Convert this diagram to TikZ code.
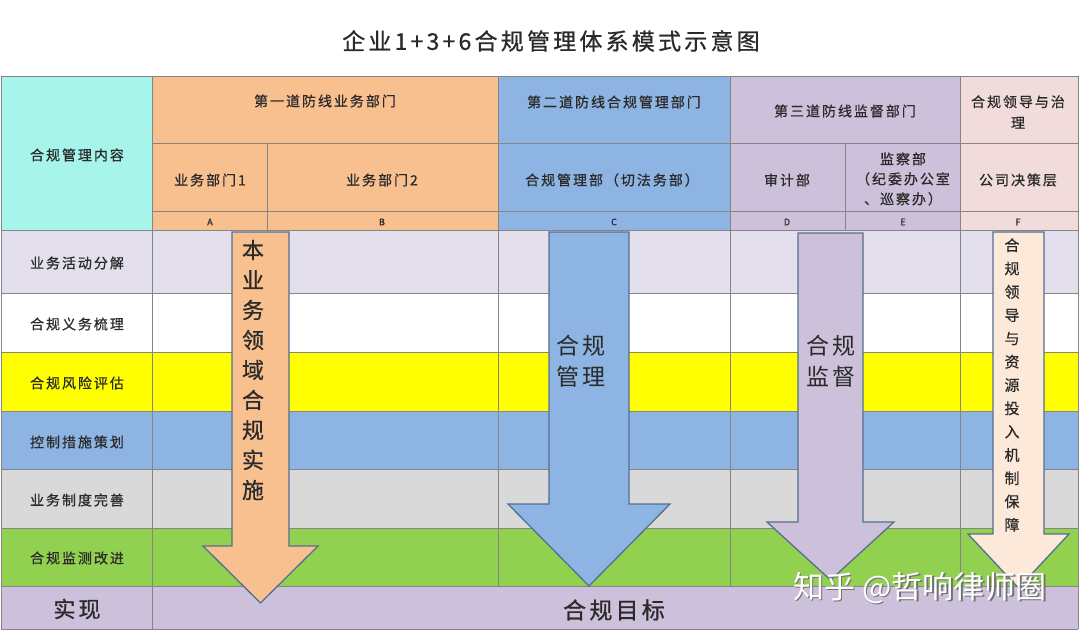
\documentclass[tikz,border=0pt]{standalone}
\usepackage{fontspec}
\setmainfont{Noto Sans CJK SC}[LetterSpace=14]
\newfontfamily\hfont{Noto Sans CJK SC}[LetterSpace=14,FakeBold=0.7]
\newfontfamily\wmfont{Noto Sans CJK SC}
\definecolor{cyanc}{HTML}{A6F4EA}
\definecolor{orangec}{HTML}{F9C08F}
\definecolor{bluec}{HTML}{8DB4E2}
\definecolor{purplec}{HTML}{CCC0DA}
\definecolor{pinkc}{HTML}{F2DCDB}
\definecolor{lavc}{HTML}{E4DFEC}
\definecolor{yellowc}{HTML}{FFFF00}
\definecolor{grayc}{HTML}{D9D9D9}
\definecolor{greenc}{HTML}{92D050}
\definecolor{peachc}{HTML}{FDE9D9}
\definecolor{gridc}{HTML}{858585}
\definecolor{edgec}{HTML}{546F90}
\definecolor{txtc}{HTML}{2A2A2A}
\begin{document}
\begin{tikzpicture}[x=1pt,y=-1pt,
  gridline/.style={draw=gridc,line width=0.8pt},
  hdr/.style={inner sep=0pt,text=txtc,font=\hfont\fontsize{14}{21}\selectfont,align=center},
  lbl/.style={inner sep=0pt,text=txtc,font=\hfont\fontsize{14}{20}\selectfont},
  letter/.style={inner sep=0pt,text=txtc,font=\hfont\fontsize{9}{10}\selectfont},
  arrowbox/.style={draw=edgec,line width=1.3pt,line join=miter},
  vtext/.style={inner sep=0pt,text=txtc,align=center}]
\useasboundingbox (0,0) rectangle (1080,634);
\fill[white] (0,0) rectangle (1080,634);
% title
\node[inner sep=0pt,text=txtc,font=\hfont\fontsize{23}{28}\selectfont] (title) at (551,41) {企业1+3+6合规管理体系模式示意图};
% header fills
\fill[cyanc] (1,76) rectangle (152,230);
\fill[orangec] (152,76) rectangle (498,230);
\fill[bluec] (498,76) rectangle (730,230);
\fill[purplec] (730,76) rectangle (960,230);
\fill[pinkc] (960,76) rectangle (1078,230);
% body rows
\fill[lavc] (1,230) rectangle (1078,293);
\fill[white] (1,293) rectangle (1078,352);
\fill[yellowc] (1,352) rectangle (1078,411);
\fill[bluec] (1,411) rectangle (1078,469);
\fill[grayc] (1,469) rectangle (1078,528);
\fill[greenc] (1,528) rectangle (1078,586);
\fill[purplec] (1,586) rectangle (1078,629);
% grid
\foreach \yy in {76,230,293,352,411,469,528,586,629}
  \draw[gridline] (1,\yy) -- (1078,\yy);
\draw[gridline] (152,143) -- (1078,143);
\draw[gridline] (152,211) -- (1078,211);
\draw[gridline] (1,76) -- (1,629);
\draw[gridline] (152,76) -- (152,629);
\draw[gridline] (1078,76) -- (1078,629);
\foreach \xx in {498,730,960}
  \draw[gridline] (\xx,76) -- (\xx,586);
\draw[gridline] (267,143) -- (267,230);
\draw[gridline] (845,143) -- (845,230);
% header texts
\node[hdr] (content) at (77,155) {合规管理内容};
\node[hdr] (line1) at (325,101) {第一道防线业务部门};
\node[hdr] (line2) at (614,102) {第二道防线合规管理部门};
\node[hdr] (line3) at (845,111) {第三道防线监督部门};
\node[hdr] (lead) at (1018,112) {合规领导与治\\理};
\node[hdr] (dept1) at (210,180) {业务部门1};
\node[hdr] (dept2) at (382,180) {业务部门2};
\node[hdr] (cmd) at (612,180) {合规管理部（切法务部）};
\node[hdr] (audit) at (787,180) {审计部};
\node[hdr,font=\hfont\fontsize{14}{20}\selectfont] (superv) at (903,179) {监察部\\（纪委办公室\\、巡察办）};
\node[hdr] (board) at (1018,180) {公司决策层};
\node[letter] (la) at (210,222) {A};
\node[letter] (lb) at (382,222) {B};
\node[letter] (lc) at (614,222) {C};
\node[letter] (ld) at (787,222) {D};
\node[letter] (le) at (903,222) {E};
\node[letter] (lf) at (1018,222) {F};
% row labels
\node[lbl] (r1) at (77,263) {业务活动分解};
\node[lbl] (r2) at (77,324) {合规义务梳理};
\node[lbl] (r3) at (77,383) {合规风险评估};
\node[lbl] (r4) at (77,442) {控制措施策划};
\node[lbl] (r5) at (77,500) {业务制度完善};
\node[lbl] (r6) at (77,558) {合规监测改进};
\node[inner sep=0pt,text=txtc,font=\hfont\fontsize{22}{26}\selectfont] (real) at (77,609) {实现};
\node[inner sep=0pt,text=txtc,font=\hfont\fontsize{23}{26}\selectfont] (goal) at (614,610) {合规目标};
% arrows
\draw[arrowbox,fill=orangec] (232,232) -- (289,232) -- (289,546) -- (318,546) -- (260.5,603) -- (203,546) -- (232,546) -- cycle;
\draw[arrowbox,fill=bluec] (549,232) -- (629,232) -- (629,504) -- (670,504) -- (589,586) -- (508,504) -- (549,504) -- cycle;
\draw[arrowbox,fill=purplec] (798,233) -- (863,233) -- (863,522) -- (894,522) -- (830.5,580) -- (767,522) -- (798,522) -- cycle;
\draw[arrowbox,fill=peachc] (993,232) -- (1044,232) -- (1044,534) -- (1069,534) -- (1018.5,588) -- (968,534) -- (993,534) -- cycle;
% arrow texts
\node[vtext,font=\hfont\fontsize{22}{30}\selectfont] (t1) at (253,370) {本\\业\\务\\领\\域\\合\\规\\实\\施};
\node[vtext,font=\fontsize{23}{31}\selectfont] (t2) at (581,361) {合规\\管理};
\node[vtext,font=\fontsize{23}{31}\selectfont] (t3) at (831,361) {合规\\监督};
\node[vtext,font=\hfont\fontsize{15}{23.3}\selectfont] (t4) at (1012,385) {合\\规\\领\\导\\与\\资\\源\\投\\入\\机\\制\\保\\障};
% watermark
\node[inner sep=0pt,text=black!55,font=\wmfont\fontsize{31}{34}\selectfont] (wms) at (921.5,589.5) {知乎 @哲响律师圈};
\node[inner sep=0pt,text=white,font=\wmfont\fontsize{31}{34}\selectfont] (wm) at (920,588) {知乎 @哲响律师圈};
\end{tikzpicture}
\end{document}
